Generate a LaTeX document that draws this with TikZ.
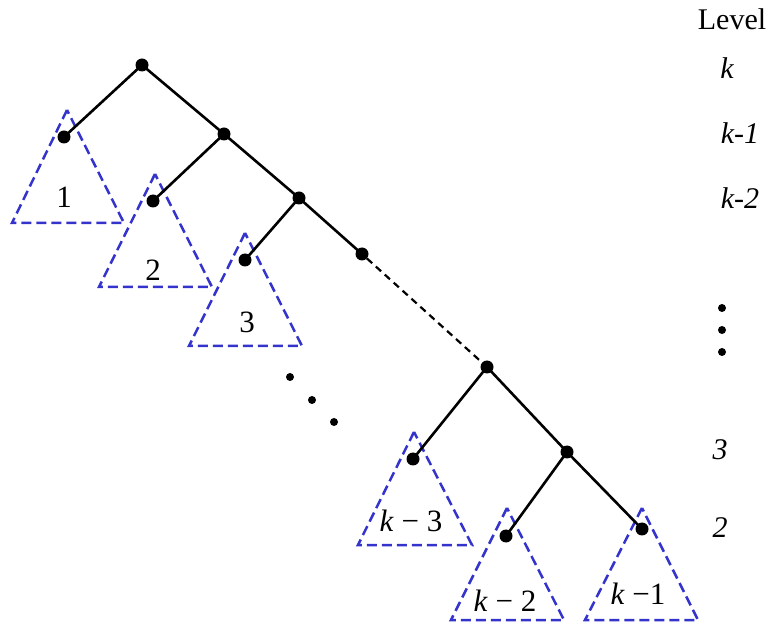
\documentclass[tikz,border=0pt]{standalone}
\usepackage{fontspec}
\setmainfont{Liberation Serif}
\definecolor{triblue}{RGB}{52,52,204}
\begin{document}
\begin{tikzpicture}[x=1pt,y=-1pt,
  dot/.style={circle,fill=black,inner sep=0pt,minimum size=13pt},
  edge/.style={line width=2.6pt},
  dashedge/.style={line width=2.2pt,dash pattern=on 7pt off 5pt},
  tri/.style={draw=triblue,line width=2.5pt,dash pattern=on 10pt off 5pt,line join=miter},
  trilabel/.style={inner sep=0pt,font=\fontsize{31}{35}\selectfont},
  lvl/.style={inner sep=0pt,font=\fontsize{30}{34}\selectfont\itshape},
  sdot/.style={circle,fill=black,inner sep=0pt,minimum size=8pt}]
\useasboundingbox (0,0) rectangle (772,628);
% triangles
\draw[tri] (67,110) -- (12,223) -- (124,223) -- cycle;
\draw[tri] (155,174) -- (99,287) -- (212,287) -- cycle;
\draw[tri] (245,233) -- (189,346) -- (302,346) -- cycle;
\draw[tri] (414,432) -- (358,545) -- (472,545) -- cycle;
\draw[tri] (507,508) -- (451,620) -- (564,620) -- cycle;
\draw[tri] (642,508) -- (585,620) -- (698,620) -- cycle;
\node[trilabel] (t1) at (64,197) {1};
\node[trilabel] (t2) at (153,270) {2};
\node[trilabel] (t3) at (247,322) {3};
\node[trilabel] (t4) at (411,521) {\textit{k} − 3};
\node[trilabel] (t5) at (505,601) {\textit{k} − 2};
\node[trilabel] (t6) at (638,594) {\textit{k} −1};
% tree nodes
\node[dot] (r) at (142,65) {};
\node[dot] (a1) at (64,137) {};
\node[dot] (b1) at (224,134) {};
\node[dot] (a2) at (153,201) {};
\node[dot] (b2) at (299,198) {};
\node[dot] (a3) at (245,260) {};
\node[dot] (b3) at (362,254) {};
\node[dot] (c) at (487,367) {};
\node[dot] (c1) at (413,459) {};
\node[dot] (c2) at (567,452) {};
\node[dot] (d1) at (506,536) {};
\node[dot] (d2) at (642,529) {};
\draw[edge] (r.center) -- (a1.center);
\draw[edge] (r.center) -- (b1.center);
\draw[edge] (b1.center) -- (a2.center);
\draw[edge] (b1.center) -- (b2.center);
\draw[edge] (b2.center) -- (a3.center);
\draw[edge] (b2.center) -- (b3.center);
\draw[dashedge] (b3) -- (c);
\draw[edge] (c.center) -- (c1.center);
\draw[edge] (c.center) -- (c2.center);
\draw[edge] (c2.center) -- (d1.center);
\draw[edge] (c2.center) -- (d2.center);
% diagonal dots
\node[sdot] (e1) at (290,377) {};
\node[sdot] (e2) at (312,400) {};
\node[sdot] (e3) at (334,422) {};
% levels
\node[inner sep=0pt,font=\fontsize{30}{34}\selectfont] (lv) at (732,19) {Level};
\node[lvl] (l0) at (727,68) {k};
\node[lvl] (l1) at (740,133) {k-1};
\node[lvl] (l2) at (740,198) {k-2};
\node[sdot] (v1) at (722,308) {};
\node[sdot] (v2) at (722,330) {};
\node[sdot] (v3) at (722,352) {};
\node[lvl] (l3) at (720,450) {3};
\node[lvl] (l4) at (720,528) {2};
\end{tikzpicture}
\end{document}
